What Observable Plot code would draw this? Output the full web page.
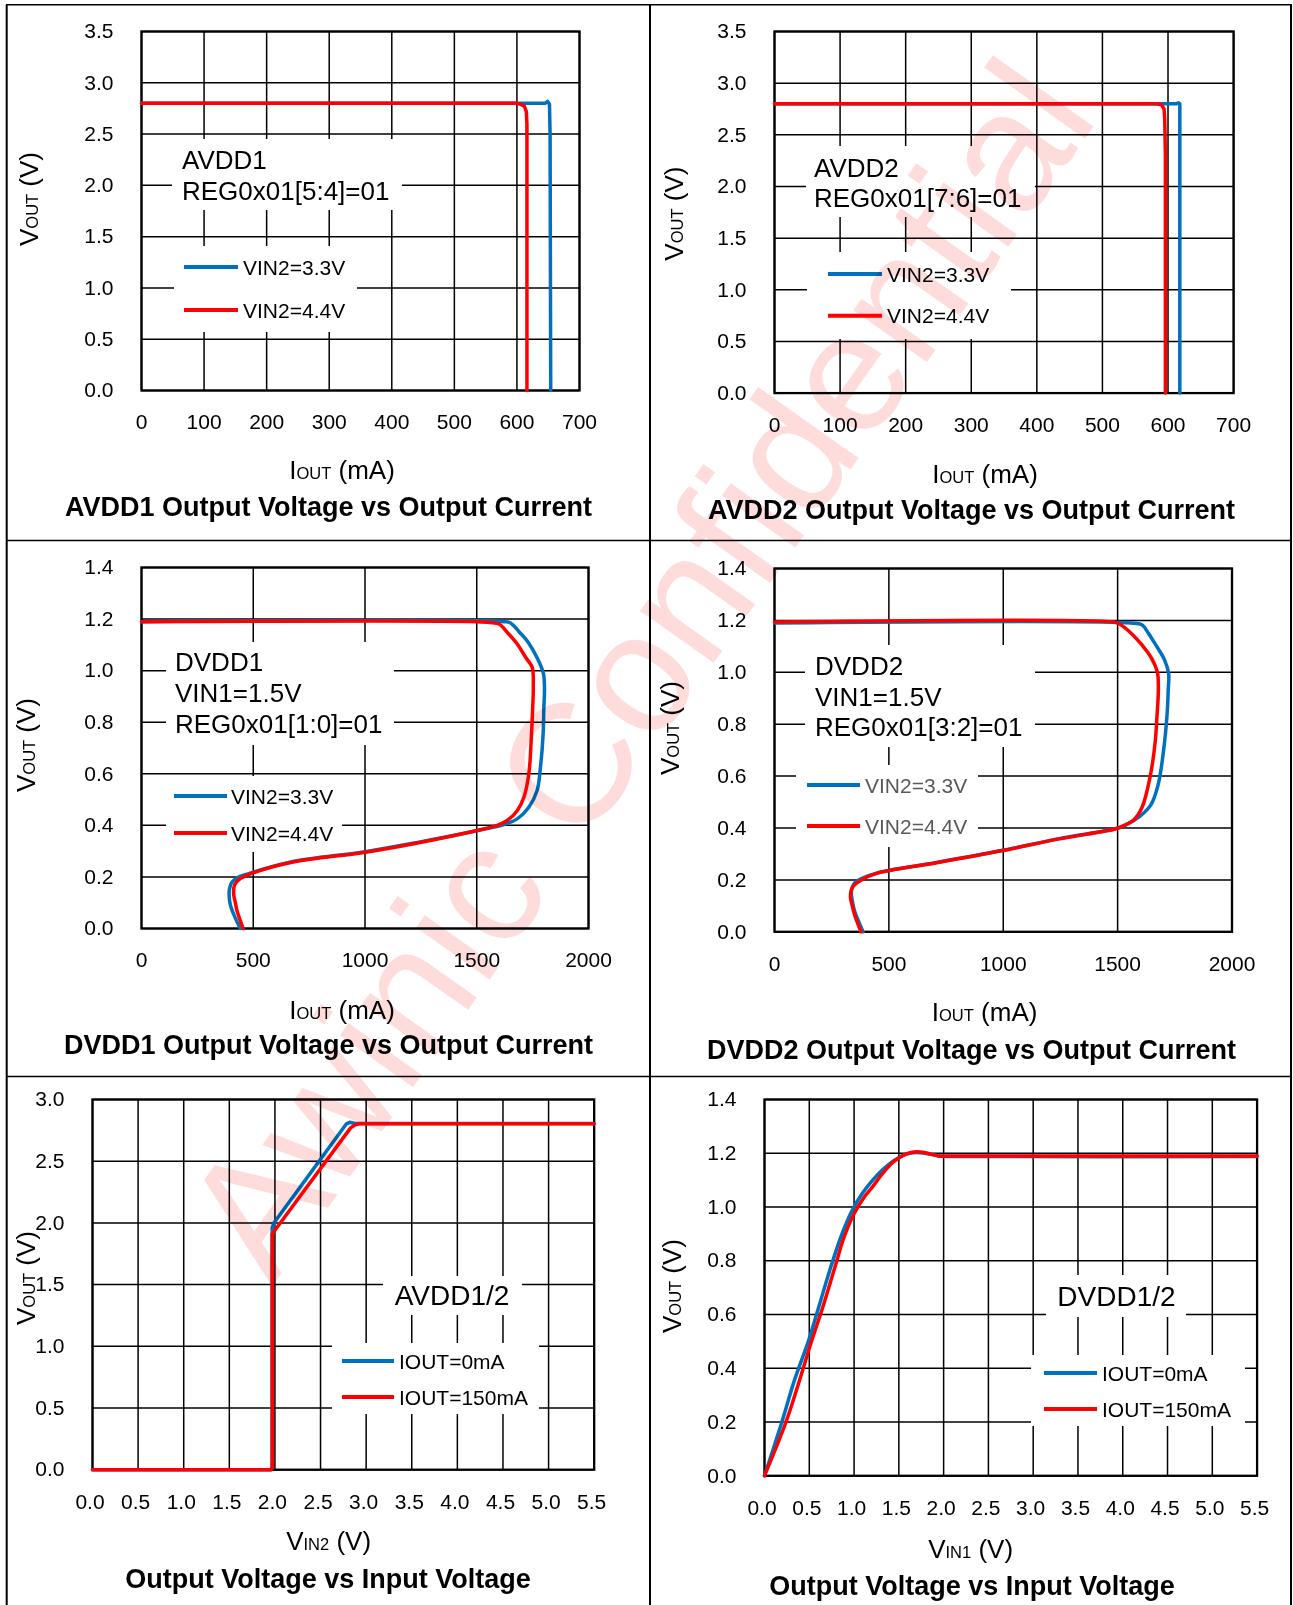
<!DOCTYPE html>
<html><head><meta charset="utf-8">
<script src="https://cdn.jsdelivr.net/npm/d3@7"></script>
<script src="https://cdn.jsdelivr.net/npm/@observablehq/plot@0.6"></script>
<style>
html,body{margin:0;padding:0;background:#fff;}
#page{position:relative;width:1293px;height:1605px;overflow:hidden;font-family:"Liberation Sans",Arial,sans-serif;}
#page svg{position:absolute;}
</style></head><body><div id="page"></div>
<script>
// ---------- DATA ----------
const avddCurrentTicks = [0,100,200,300,400,500,600,700];
const dvddCurrentTicks = [0,500,1000,1500,2000];
const vinTicks = [0,0.5,1.0,1.5,2.0,2.5,3.0,3.5,4.0,4.5,5.0,5.5];
const avddVoutTicks = [0,0.5,1.0,1.5,2.0,2.5,3.0,3.5];
const dvddVoutTicks = [0,0.2,0.4,0.6,0.8,1.0,1.2,1.4];
const avddVinVoutTicks = [0,0.5,1.0,1.5,2.0,2.5,3.0];

const legendCurrent = ["VIN2=3.3V","VIN2=4.4V"];
const legendVin = ["IOUT=0mA","IOUT=150mA"];

// AVDD1 : [IOUT mA, VOUT V]
const avdd1_vin33 = [[0,2.8],[645,2.8],[649,2.818],[652,2.79],[653,2.5],[654,0]];
const avdd1_vin44 = [[0,2.8],[598,2.8],[606,2.79],[612,2.77],[615,2.72],[616,2.6],[616,0]];
// AVDD2
const avdd2_vin33 = [[0,2.8],[612,2.8],[616,2.81],[618,2.8],[618,0]];
const avdd2_vin44 = [[0,2.8],[582,2.8],[590,2.79],[594,2.75],[595,2.65],[596,2.3],[596,0]];
// DVDD1
const dvdd1_vin33 = [[0,1.19],[1620,1.19],[1651,1.185],[1690,1.15],[1726,1.115],[1770,1.05],[1798,0.99],[1803,0.935],[1800,0.85],[1797,0.755],[1785,0.625],[1770,0.535],[1733,0.47],[1681,0.425],[1621,0.403],[1503,0.38],[1224,0.332],[1002,0.298],[668,0.258],[480,0.213],[430,0.198],[405,0.18],[394,0.155],[392,0.13],[398,0.09],[420,0.04],[442,0]];
const dvdd1_vin44 = [[0,1.19],[1500,1.19],[1560,1.187],[1600,1.181],[1640,1.145],[1681,1.103],[1720,1.05],[1748,1.013],[1753,0.935],[1750,0.85],[1745,0.755],[1733,0.6],[1711,0.509],[1681,0.457],[1636,0.419],[1592,0.4],[1502,0.38],[1224,0.33],[1002,0.296],[668,0.256],[482,0.21],[436,0.19],[417,0.17],[412,0.136],[420,0.1],[427,0.07],[455,0]];
// DVDD2
const dvdd2_vin33 = [[0,1.19],[1560,1.19],[1606,1.183],[1635,1.15],[1660,1.115],[1705,1.048],[1723,0.995],[1721,0.93],[1718,0.863],[1705,0.73],[1678,0.57],[1646,0.49],[1597,0.445],[1534,0.411],[1489,0.397],[1245,0.359],[992,0.313],[703,0.266],[450,0.227],[380,0.205],[352,0.19],[338,0.165],[336,0.146],[342,0.11],[350,0.08],[387,0]];
const dvdd2_vin44 = [[0,1.194],[1480,1.194],[1505,1.188],[1570,1.141],[1633,1.075],[1662,1.03],[1675,0.995],[1678,0.929],[1672,0.83],[1664,0.73],[1642,0.597],[1606,0.478],[1570,0.431],[1516,0.405],[1489,0.396],[1245,0.358],[992,0.312],[703,0.265],[450,0.226],[378,0.199],[341,0.172],[332,0.133],[340,0.1],[350,0.066],[378,0]];
// AVDD1/2 vs VIN2 : [VIN2 V, VOUT V]
const avdd_vs_vin_0mA = [[0,0],[1.96,0],[1.97,0.02],[1.97,1.96],[1.99,2.0],[2.78,2.8],[2.82,2.815],[2.88,2.805],[5.5,2.805]];
const avdd_vs_vin_150mA = [[0,0],[1.96,0],[1.97,0.02],[1.97,1.91],[2.0,1.94],[2.83,2.77],[2.88,2.795],[2.93,2.803],[5.5,2.803]];
// DVDD1/2 vs VIN1
const dvdd_vs_vin_0mA = [[0,0],[0.194,0.2],[0.332,0.353],[0.494,0.505],[0.609,0.632],[0.747,0.784],[0.863,0.898],[0.978,0.987],[1.093,1.051],[1.208,1.1],[1.324,1.14],[1.439,1.171],[1.578,1.197],[1.693,1.203],[1.808,1.199],[1.946,1.19],[2.08,1.188],[5.5,1.188]];
const dvdd_vs_vin_150mA = [[0,0],[0.24,0.2],[0.4,0.365],[0.517,0.492],[0.655,0.632],[0.794,0.785],[0.886,0.886],[1.0,0.975],[1.116,1.038],[1.208,1.076],[1.324,1.127],[1.439,1.168],[1.578,1.197],[1.693,1.206],[1.808,1.201],[1.946,1.19],[2.08,1.19],[5.5,1.19]];

const BLUE = "#0070C0", RED = "#FF0000";
const FONT = "'Liberation Sans', Arial, sans-serif";
const page = document.getElementById("page");
const f1 = d3.format(".1f");

function panel({frame:[L,T,R,B], xDomain, xTicks, xFmt, xdx = 0, yDomain, yTicks, yFmt, s33, s44, curve}) {
  const ml = 70, mt = 20, mr = 20, mb = 60;
  const grid = {stroke:"#000", strokeOpacity:1, strokeWidth:1.5};
  const svg = Plot.plot({
    width: (R-L)+ml+mr, height: (B-T)+mt+mb,
    marginLeft: ml, marginTop: mt, marginRight: mr, marginBottom: mb,
    style: {background:"transparent", overflow:"visible", fontFamily:FONT, fontSize:"21px", color:"#000"},
    x: {domain: xDomain}, y: {domain: yDomain},
    marks: [
      Plot.gridX(xTicks, grid),
      Plot.gridY(yTicks, grid),
      Plot.frame({stroke:"#000", strokeWidth:2.3}),
      Plot.line(s33, {x: d=>d[0], y: d=>d[1], stroke: BLUE, strokeWidth: 3.5, curve}),
      Plot.line(s44, {x: d=>d[0], y: d=>d[1], stroke: RED, strokeWidth: 3.5, curve}),
      Plot.axisX(xTicks, {tickSize:0, tickPadding:24, tickFormat:xFmt, label:null, fontSize:21, dx:xdx}),
      Plot.axisY(yTicks, {tickSize:0, tickPadding:28, tickFormat:yFmt, label:null, fontSize:21})
    ]
  });
  svg.style.left = (L-ml)+"px"; svg.style.top = (T-mt)+"px";
  page.appendChild(svg);
}

panel({frame:[141,31,579,390], xDomain:[0,700], xTicks:avddCurrentTicks, xFmt:d3.format("d"), yDomain:[0,3.5], yTicks:avddVoutTicks, yFmt:f1, s33:avdd1_vin33, s44:avdd1_vin44, curve:"linear"});
panel({frame:[773.5,31,1232.6,392.6], xDomain:[0,700], xTicks:avddCurrentTicks, xFmt:d3.format("d"), yDomain:[0,3.5], yTicks:avddVoutTicks, yFmt:f1, s33:avdd2_vin33, s44:avdd2_vin44, curve:"linear"});
panel({frame:[141,567,588,928], xDomain:[0,2000], xTicks:dvddCurrentTicks, xFmt:d3.format("d"), yDomain:[0,1.4], yTicks:dvddVoutTicks, yFmt:f1, s33:dvdd1_vin33, s44:dvdd1_vin44, curve:"catmull-rom"});
panel({frame:[773.5,567.7,1231,931], xDomain:[0,2000], xTicks:dvddCurrentTicks, xFmt:d3.format("d"), yDomain:[0,1.4], yTicks:dvddVoutTicks, yFmt:f1, s33:dvdd2_vin33, s44:dvdd2_vin44, curve:"catmull-rom"});
panel({frame:[92,1099,593.7,1469.2], xDomain:[0,5.5], xTicks:vinTicks, xFmt:f1, xdx:-2.5, yDomain:[0,3.0], yTicks:avddVinVoutTicks, yFmt:f1, s33:avdd_vs_vin_0mA, s44:avdd_vs_vin_150mA, curve:"linear"});
panel({frame:[764,1099,1256.6,1475.3], xDomain:[0,5.5], xTicks:vinTicks, xFmt:f1, xdx:-2.5, yDomain:[0,1.4], yTicks:dvddVoutTicks, yFmt:f1, s33:dvdd_vs_vin_0mA, s44:dvdd_vs_vin_150mA, curve:"catmull-rom"});

// ---------- overlay: borders, annotations, labels ----------
const ov = d3.select(page).append("svg").attr("width",1293).attr("height",1605)
  .style("left","0px").style("top","0px").attr("font-family", FONT);

// table borders
const bl = [[6.7,4.7,6.7,1605,2],[1291,4.7,1291,1605,2],[6,4.7,1292,4.7,1.4],[650,4.7,650,1605,2],[6,540.5,1292,540.5,1.4],[6,1076.5,1292,1076.5,1.4]];
ov.selectAll("line.b").data(bl).join("line").attr("class","b")
  .attr("x1",d=>d[0]).attr("y1",d=>d[1]).attr("x2",d=>d[2]).attr("y2",d=>d[3])
  .attr("stroke","#000").attr("stroke-width",d=>d[4]);

// annotation boxes: [x,y,w,h]
const boxes = [[172,139,230,71],[174,246,183,86],[806,146,229,71],[807,252,204,87],
  [166,642,228,103],[166,776,176,76],[805,645,230,102],[796,765,182,82],
  [383,1276,139,39],[332,1343,207,71],[1046,1275,140,42],[1031,1355,214,71]];
ov.selectAll("rect.box").data(boxes).join("rect").attr("class","box")
  .attr("x",d=>d[0]).attr("y",d=>d[1]).attr("width",d=>d[2]).attr("height",d=>d[3]).attr("fill","#fff");

// annotation texts [x, baseline, text, size, anchor]
const notes = [
  [182,169,"AVDD1",26,"start"],[182,200,"REG0x01[5:4]=01",26,"start"],
  [814,176.5,"AVDD2",26,"start"],[814,206.5,"REG0x01[7:6]=01",26,"start"],
  [175,671,"DVDD1",26,"start"],[175,702,"VIN1=1.5V",26,"start"],[175,733,"REG0x01[1:0]=01",26,"start"],
  [815,675,"DVDD2",26,"start"],[815,705.5,"VIN1=1.5V",26,"start"],[815,736,"REG0x01[3:2]=01",26,"start"],
  [452,1305,"AVDD1/2",28,"middle"],[1116.5,1306,"DVDD1/2",28,"middle"]
];
ov.selectAll("text.note").data(notes).join("text").attr("class","note")
  .attr("x",d=>d[0]).attr("y",d=>d[1]).attr("font-size",d=>d[3]).attr("text-anchor",d=>d[4]).text(d=>d[2]);

// legends: [x1,x2,yBlue,yRed,labelX,labels,color]
const legends = [
  [184,238,267,310,243,legendCurrent,"#000"],
  [828,882,274,315.7,887,legendCurrent,"#000"],
  [174,227,796,833,231,legendCurrent,"#000"],
  [807,860,785,826,865,legendCurrent,"#595959"],
  [342,394,1361,1397,399,legendVin,"#000"],
  [1044,1097,1373,1409,1102,legendVin,"#000"]
];
for (const [x1,x2,yb,yr,lx,labs,col] of legends) {
  [[yb,BLUE,labs[0]],[yr,RED,labs[1]]].forEach(([y,c,t]) => {
    ov.append("line").attr("x1",x1).attr("x2",x2).attr("y1",y).attr("y2",y).attr("stroke",c).attr("stroke-width",4);
    ov.append("text").attr("x",lx).attr("y",y+7.5).attr("font-size",21).attr("fill",col).text(t);
  });
}

// axis labels
function label(cx, cy, main, sub, rest, rotate) {
  const t = ov.append("text").attr("x",cx).attr("y",cy).attr("dy","0.36em")
    .attr("text-anchor","middle").attr("font-size",26);
  if (rotate) t.attr("transform",`rotate(-90 ${cx} ${cy})`);
  t.append("tspan").text(main);
  t.append("tspan").attr("font-size",16.5).text(sub);
  t.append("tspan").text(rest);
}
const xLabels = [[342,470,"I","OUT"," (mA)"],[985,473.5,"I","OUT"," (mA)"],[342,1009.5,"I","OUT"," (mA)"],[984.6,1012,"I","OUT"," (mA)"],[328.6,1541,"V","IN2"," (V)"],[970.6,1549,"V","IN1"," (V)"]];
const yLabels = [[29,199],[674,213.6],[26,745],[670,728],[26,1278],[672,1286]];
xLabels.forEach(d => label(d[0],d[1],d[2],d[3],d[4],false));
yLabels.forEach(d => label(d[0],d[1],"V","OUT"," (V)",true));

// titles
const titles = [[328.5,506,"AVDD1 Output Voltage vs Output Current"],[971.5,509,"AVDD2 Output Voltage vs Output Current"],
  [328.5,1044,"DVDD1 Output Voltage vs Output Current"],[971.5,1049,"DVDD2 Output Voltage vs Output Current"],
  [328,1578,"Output Voltage vs Input Voltage"],[972,1585,"Output Voltage vs Input Voltage"]];
ov.selectAll("text.title").data(titles).join("text").attr("class","title")
  .attr("x",d=>d[0]).attr("y",d=>d[1]).attr("dy","0.36em").attr("text-anchor","middle")
  .attr("font-size",27).attr("font-weight","bold").text(d=>d[2]);

// watermark
const wm = d3.select(page).append("svg").attr("width",1293).attr("height",1605)
  .style("left","0px").style("top","0px").style("mix-blend-mode","multiply").style("pointer-events","none");
wm.append("text").attr("x",686).attr("y",702).attr("transform","rotate(-54.7 686 702)")
  .attr("text-anchor","middle").attr("font-family",FONT).attr("font-size",170)
  .attr("fill","#FFDCDC").text("Awinic Confidential");
</script></body></html>
